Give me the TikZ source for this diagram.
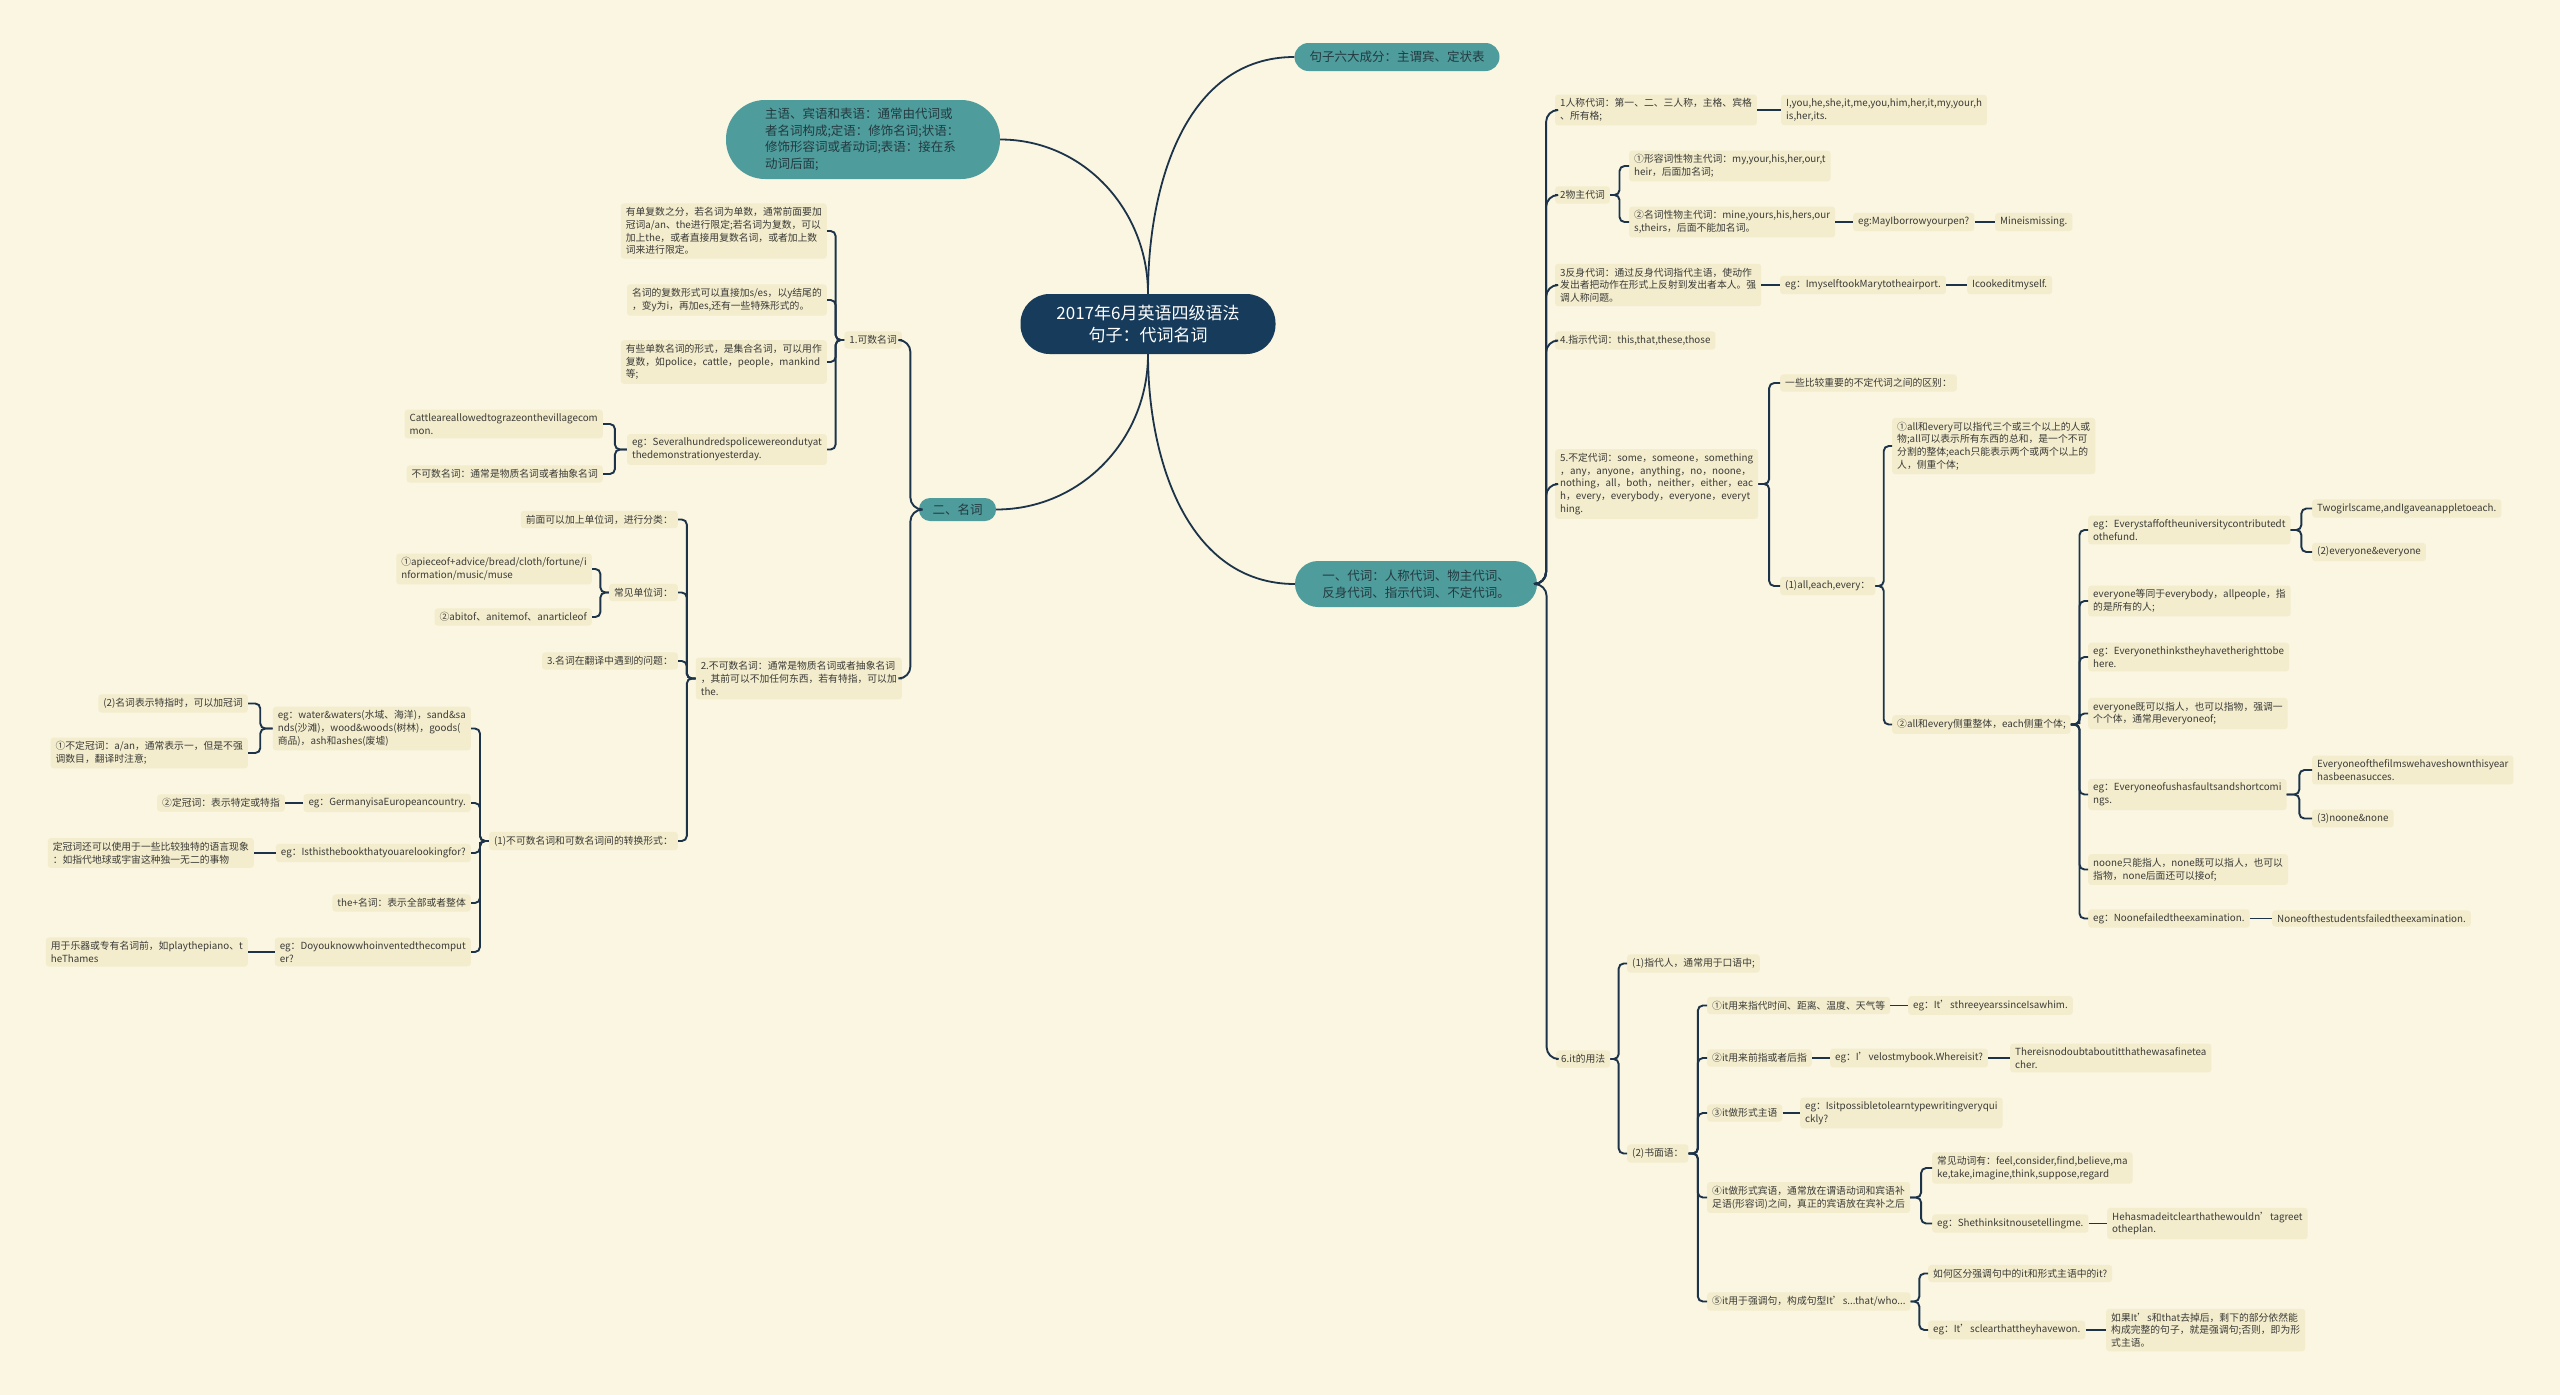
\documentclass[tikz,border=0pt]{standalone}
\usepackage{fontspec}
\setmainfont{Noto Sans CJK SC}
\usetikzlibrary{calc}
\definecolor{bgc}{HTML}{FAF6E2}
\definecolor{boxc}{HTML}{F3EDCE}
\definecolor{tealc}{HTML}{4E9C9C}
\definecolor{rootc}{HTML}{163B5B}
\definecolor{linec}{HTML}{1C3349}
\definecolor{txtc}{HTML}{3A3A36}
\definecolor{ttxt}{HTML}{243A40}
\tikzset{
  box/.style={fill=boxc, rounded corners=3pt, inner xsep=5pt, inner ysep=4pt, align=left, text=txtc, font=\fontsize{9.8}{12.7}\selectfont},
  L/.style={box, anchor=east},
  R/.style={box, anchor=west},
  tealn/.style={fill=tealc, text=ttxt, inner sep=0pt, align=left, font=\fontsize{12.5}{16.7}\selectfont},
  rootn/.style={fill=rootc, text=white, inner sep=0pt, align=center, font=\fontsize{17}{22}\selectfont},
  conn/.style={draw=linec, line width=1.9pt, rounded corners=5pt},
  conn1/.style={draw=linec, line width=1.9pt, rounded corners=12pt},
  curv/.style={draw=linec, line width=1.8pt}
}
\newcommand\Rk[2]{\draw[conn] (#1.east) -| ($(#1.east)!0.5!(#2.west)$) |- (#2.west);}
\newcommand\Lk[2]{\draw[conn] (#1.west) -| ($(#1.west)!0.5!(#2.east)$) |- (#2.east);}
\newcommand\Rkk[2]{\draw[conn1] (#1.east) -| ($(#1.east)!0.5!(#2.west)$) |- (#2.west);}
\newcommand\Lkk[2]{\draw[conn1] (#1.west) -| ($(#1.west)!0.5!(#2.east)$) |- (#2.east);}
\newcommand\Rs[2]{\draw[conn] (#1.east) -- (#1.east -| #2.west);}
\newcommand\Ls[2]{\draw[conn] (#1.west) -- (#1.west -| #2.east);}
\begin{document}
\begin{tikzpicture}[x=1pt,y=-1pt]
\fill[bgc] (0,0) rectangle (2560,1395);
\useasboundingbox (0,0) rectangle (2560,1395);

% root and level 1
\node[rootn, minimum width=255pt, minimum height=60pt, rounded corners=29pt] (root) at (1148,324) {2017年6月英语四级语法\\句子：代词名词};
\node[tealn, minimum width=205pt, minimum height=28pt, rounded corners=14pt] (six) at (1397,57) {句子六大成分：主谓宾、定状表};
\node[tealn, minimum width=274pt, minimum height=79pt, rounded corners=39pt, text width=196pt] (subj) at (863,139.5) {主语、宾语和表语：通常由代词或\\者名词构成;定语：修饰名词;状语：\\修饰形容词或者动词;表语：接在系\\动词后面;};
\node[tealn, minimum width=77pt, minimum height=23pt, rounded corners=11pt] (noun) at (957.5,509.5) {二、名词};
\node[tealn, minimum width=242pt, minimum height=46pt, rounded corners=23pt] (pron) at (1416,584) {一、代词：人称代词、物主代词、\\反身代词、指示代词、不定代词。};

\draw[curv] (root.north) to[out=90,in=180] (six.west);
\draw[curv] (root.north) to[out=90,in=0] (subj.east);
\draw[curv] (root.south) to[out=-90,in=0] (noun.east);
\draw[curv] (root.south) to[out=-90,in=180] (pron.west);

% ---------------- left: nouns
\node[L] (cnt) at (902,340) {1.可数名词};
\node[L] (unc) at (902,678.5) {2.不可数名词：通常是物质名词或者抽象名词\\，其前可以不加任何东西，若有特指，可以加\\the.};
\Lkk{noun}{cnt}
\Lkk{noun}{unc}

\node[L] (c1) at (827,231) {有单复数之分，若名词为单数，通常前面要加\\冠词a/an、the进行限定;若名词为复数，可以\\加上the，或者直接用复数名词，或者加上数\\词来进行限定。};
\node[L] (c2) at (827,300) {名词的复数形式可以直接加s/es，以y结尾的\\，变y为i，再加es,还有一些特殊形式的。};
\node[L] (c3) at (827,362) {有些单数名词的形式，是集合名词，可以用作\\复数，如police，cattle，people，mankind\\等;};
\node[L] (c4) at (827,449.5) {eg：Severalhundredspolicewereondutyat\\thedemonstrationyesterday.};
\Lk{cnt}{c1}
\Lk{cnt}{c2}
\Lk{cnt}{c3}
\Lk{cnt}{c4}
\node[L] (c4a) at (603,424) {Cattleareallowedtograzeonthevillagecom\\mon.};
\node[L] (c4b) at (603,474) {不可数名词：通常是物质名词或者抽象名词};
\Lk{c4}{c4a}
\Lk{c4}{c4b}

\node[L] (u1) at (678,519.5) {前面可以加上单位词，进行分类：};
\node[L] (u2) at (678,592.5) {常见单位词：};
\node[L] (u3) at (678,661) {3.名词在翻译中遇到的问题：};
\node[L] (u4) at (678,841) {(1)不可数名词和可数名词间的转换形式：};
\Lk{unc}{u1}
\Lk{unc}{u2}
\Lk{unc}{u3}
\Lk{unc}{u4}
\node[L] (u2a) at (592,569) {①apieceof+advice/bread/cloth/fortune/i\\nformation/music/muse};
\node[L] (u2b) at (592,617) {②abitof、anitemof、anarticleof};
\Lk{u2}{u2a}
\Lk{u2}{u2b}

\node[L] (w1) at (471,728.5) {eg：water\&waters(水域、海洋)，sand\&sa\\nds(沙滩)，wood\&woods(树林)，goods(\\商品)，ash和ashes(废墟)};
\node[L] (w2) at (471,803) {eg：GermanyisaEuropeancountry.};
\node[L] (w3) at (471,853) {eg：Isthisthebookthatyouarelookingfor?};
\node[L] (w4) at (471,903) {the+名词：表示全部或者整体};
\node[L] (w5) at (471,952) {eg：Doyouknowwhoinventedthecomput\\er?};
\Lk{u4}{w1}
\Lk{u4}{w2}
\Lk{u4}{w3}
\Lk{u4}{w4}
\Lk{u4}{w5}
\node[L] (w1a) at (248,703.5) {(2)名词表示特指时，可以加冠词};
\node[L] (w1b) at (248,753) {①不定冠词：a/an，通常表示一，但是不强\\调数目，翻译时注意;};
\Lk{w1}{w1a}
\Lk{w1}{w1b}
\node[L] (w2a) at (285,803) {②定冠词：表示特定或特指};
\Ls{w2}{w2a}
\node[L] (w3a) at (254,853) {定冠词还可以使用于一些比较独特的语言现象\\：如指代地球或宇宙这种独一无二的事物};
\Ls{w3}{w3a}
\node[L] (w5a) at (248,952) {用于乐器或专有名词前，如playthepiano、t\\heThames};
\Ls{w5}{w5a}

% ---------------- right: pronouns
\node[R] (p1) at (1555,110) {1人称代词：第一、二、三人称，主格、宾格\\、所有格;};
\node[R] (p2) at (1555,195) {2物主代词};
\node[R] (p3) at (1555,285) {3反身代词：通过反身代词指代主语，使动作\\发出者把动作在形式上反射到发出者本人。强\\调人称问题。};
\node[R] (p4) at (1555,340.5) {4.指示代词：this,that,these,those};
\node[R] (p5) at (1555,484) {5.不定代词：some，someone，something\\，any，anyone，anything，no，noone，\\nothing，all，both，neither，either，eac\\h，every，everybody，everyone，everyt\\hing.};
\node[R] (p6) at (1556,1059) {6.it的用法};
\Rkk{pron}{p1}
\Rkk{pron}{p2}
\Rkk{pron}{p3}
\Rkk{pron}{p4}
\Rkk{pron}{p5}
\Rkk{pron}{p6}

\node[R] (p1a) at (1781,110) {I,you,he,she,it,me,you,him,her,it,my,your,h\\is,her,its.};
\Rs{p1}{p1a}
\node[R] (p2a) at (1629,166) {①形容词性物主代词：my,your,his,her,our,t\\heir，后面加名词;};
\node[R] (p2b) at (1629,222) {②名词性物主代词：mine,yours,his,hers,our\\s,theirs，后面不能加名词。};
\Rk{p2}{p2a}
\Rk{p2}{p2b}
\node[R] (p2b1) at (1853,222) {eg:MayIborrowyourpen?};
\node[R] (p2b2) at (1995,222) {Mineismissing.};
\Rs{p2b}{p2b1}
\Rs{p2b1}{p2b2}
\node[R] (p3a) at (1780,285) {eg：ImyselftookMarytotheairport.};
\node[R] (p3b) at (1967,285) {Icookeditmyself.};
\Rs{p3}{p3a}
\Rs{p3a}{p3b}

\node[R] (p5a) at (1780,383) {一些比较重要的不定代词之间的区别：};
\node[R] (p5b) at (1780,586) {(1)all,each,every：};
\Rk{p5}{p5a}
\Rk{p5}{p5b}
\node[R] (p5b1) at (1892,446) {①all和every可以指代三个或三个以上的人或\\物;all可以表示所有东西的总和，是一个不可\\分割的整体;each只能表示两个或两个以上的\\人，侧重个体;};
\node[R] (p5b2) at (1892,724.5) {②all和every侧重整体，each侧重个体;};
\Rk{p5b}{p5b1}
\Rk{p5b}{p5b2}

\node[R] (e1) at (2088,530) {eg：Everystaffoftheuniversitycontributedt\\othefund.};
\node[R] (e2) at (2088,601) {everyone等同于everybody，allpeople，指\\的是所有的人;};
\node[R] (e3) at (2088,657) {eg：Everyonethinkstheyhavetherighttobe\\here.};
\node[R] (e4) at (2088,713.5) {everyone既可以指人，也可以指物，强调一\\个个体，通常用everyoneof;};
\node[R] (e5) at (2088,794.5) {eg：Everyoneofushasfaultsandshortcomi\\ngs.};
\node[R] (e6) at (2088,869.5) {noone只能指人，none既可以指人，也可以\\指物，none后面还可以接of;};
\node[R] (e7) at (2088,918.5) {eg：Noonefailedtheexamination.};
\Rk{p5b2}{e1}
\Rk{p5b2}{e2}
\Rk{p5b2}{e3}
\Rk{p5b2}{e4}
\Rk{p5b2}{e5}
\Rk{p5b2}{e6}
\Rk{p5b2}{e7}
\node[R] (e1a) at (2312,508.5) {Twogirlscame,andIgaveanappletoeach.};
\node[R] (e1b) at (2312,552) {(2)everyone\&everyone};
\Rk{e1}{e1a}
\Rk{e1}{e1b}
\node[R] (e5a) at (2312,770) {Everyoneofthefilmswehaveshownthisyear\\hasbeenasucces.};
\node[R] (e5b) at (2312,818.5) {(3)noone\&none};
\Rk{e5}{e5a}
\Rk{e5}{e5b}
\node[R] (e7a) at (2272,918.5) {Noneofthestudentsfailedtheexamination.};
\Rs{e7}{e7a}

% it usage
\node[R] (i1) at (1627,963.5) {(1)指代人，通常用于口语中;};
\node[R] (i2) at (1627,1153.5) {(2)书面语：};
\Rk{p6}{i1}
\Rk{p6}{i2}
\node[R] (j1) at (1707,1005.5) {①it用来指代时间、距离、温度、天气等};
\node[R] (j2) at (1707,1058) {②it用来前指或者后指};
\node[R] (j3) at (1707,1113) {③it做形式主语};
\node[R] (j4) at (1707,1197.5) {④it做形式宾语，通常放在谓语动词和宾语补\\足语(形容词)之间，真正的宾语放在宾补之后};
\node[R] (j5) at (1707,1301.5) {⑤it用于强调句，构成句型It’s...that/who...};
\Rk{i2}{j1}
\Rk{i2}{j2}
\Rk{i2}{j3}
\Rk{i2}{j4}
\Rk{i2}{j5}
\node[R] (j1a) at (1908,1005.5) {eg：It’sthreeyearssinceIsawhim.};
\Rs{j1}{j1a}
\node[R] (j2a) at (1830,1058) {eg：I’velostmybook.Whereisit?};
\node[R] (j2b) at (2010,1058) {Thereisnodoubtaboutitthathewasafinetea\\cher.};
\Rs{j2}{j2a}
\Rs{j2a}{j2b}
\node[R] (j3a) at (1800,1113) {eg：Isitpossibletolearntypewritingveryqui\\ckly?};
\Rs{j3}{j3a}
\node[R] (j4a) at (1932,1168) {常见动词有：feel,consider,find,believe,ma\\ke,take,imagine,think,suppose,regard};
\node[R] (j4b) at (1932,1223.5) {eg：Shethinksitnousetellingme.};
\Rk{j4}{j4a}
\Rk{j4}{j4b}
\node[R] (j4c) at (2107,1223.5) {Hehasmadeitclearthathewouldn’tagreet\\otheplan.};
\Rs{j4b}{j4c}
\node[R] (j5a) at (1928,1273.5) {如何区分强调句中的it和形式主语中的it?};
\node[R] (j5b) at (1928,1330) {eg：It’sclearthattheyhavewon.};
\Rk{j5}{j5a}
\Rk{j5}{j5b}
\node[R] (j5c) at (2106,1330) {如果It’s和that去掉后，剩下的部分依然能\\构成完整的句子，就是强调句;否则，即为形\\式主语。};
\Rs{j5b}{j5c}
\end{tikzpicture}
\end{document}
